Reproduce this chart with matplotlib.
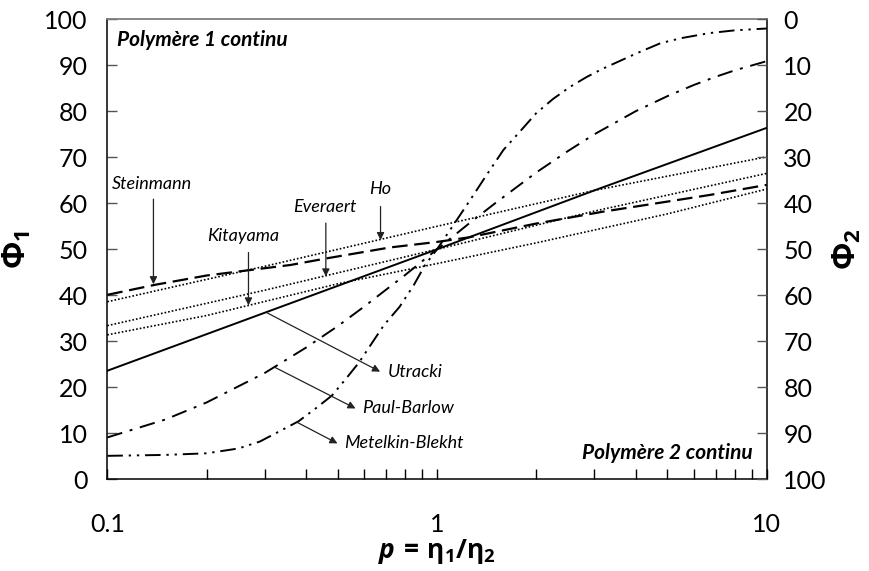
import matplotlib
matplotlib.use("Agg")
import matplotlib.pyplot as plt
from matplotlib.ticker import FixedLocator, NullFormatter

plt.rcParams['font.family'] = ['Lato', 'DejaVu Sans']
plt.rcParams['mathtext.fontset'] = 'custom'
plt.rcParams['mathtext.rm'] = 'Open Sans'
plt.rcParams['mathtext.it'] = 'Open Sans:italic'
plt.rcParams['mathtext.bf'] = 'Open Sans:bold'
plt.rcParams['mathtext.bfit'] = 'Open Sans:italic:bold'

# Phase-inversion volume fraction of polymer 1 (%) vs viscosity ratio p = eta1/eta2
p_steinmann = [0.1, 0.14, 0.2, 0.36, 0.46, 0.72, 1.0, 1.25, 2.0, 3.2, 6.7, 10]
phi_steinmann = [40.1, 42.3, 44.3, 46.6, 48.0, 50.4, 51.6, 52.6, 55.6, 58.2, 61.8, 64.0]

p_ho = [0.1, 0.3, 1.0, 3.0, 10]
phi_ho = [38.6, 46.3, 55.0, 62.8, 70.1]

p_everaert = [0.1, 0.3, 1.0, 3.0, 10]
phi_everaert = [33.4, 41.1, 50.0, 58.3, 66.5]

p_kitayama = [0.1, 0.2, 0.5, 1.0, 2.0, 5.0, 10]
phi_kitayama = [31.4, 35.6, 42.5, 46.9, 51.4, 57.7, 63.1]

p_utracki = [0.1, 0.3, 1.0, 3.0, 10]
phi_utracki = [23.6, 36.2, 50.0, 62.8, 76.4]

p_paul = [0.1, 0.15, 0.2, 0.3, 0.4, 0.5, 0.6, 0.7, 0.8, 1.0, 1.25, 1.5, 2.0,
          2.5, 3.0, 4.0, 5.0, 6.0, 7.0, 8.0, 10]
phi_paul = [9.1, 13.0, 16.7, 23.1, 28.6, 33.3, 37.5, 41.2, 44.4, 50.0, 55.6,
            60.0, 66.7, 71.4, 75.0, 80.0, 83.3, 85.7, 87.5, 88.9, 90.9]

p_metelkin = [0.1, 0.15, 0.2, 0.25, 0.29, 0.33, 0.38, 0.43, 0.48, 0.53, 0.58,
              0.64, 0.69, 0.77, 0.85, 0.92, 1.0, 1.1, 1.26, 1.4, 1.59, 1.8,
              2.0, 2.25, 2.53, 2.85, 3.19, 3.6, 4.0, 4.76, 5.5, 6.7, 8.0, 10]
phi_metelkin = [5.1, 5.3, 5.65, 6.7, 8.2, 10.3, 12.6, 15.5, 18.2, 21.9, 25.4,
                30.0, 33.5, 37.5, 42.2, 46.6, 50.0, 54.4, 60.7, 65.7, 71.6,
                75.9, 79.6, 82.7, 85.3, 87.5, 89.3, 91.0, 92.5, 94.8, 95.9,
                97.0, 97.6, 98.0]

x_ticks = [0.1, 1, 10]
x_tick_labels = ['0.1', '1', '10']
y_ticks = list(range(0, 101, 10))

fig = plt.figure(figsize=(8.69, 5.71), dpi=100)
ax = fig.add_axes([0.1235, 0.1606, 0.7588, 0.8056])

lw_main = 1.4
ax.plot(p_utracki, phi_utracki, color='black', lw=lw_main, ls='-')
ax.plot(p_steinmann, phi_steinmann, color='black', lw=1.6, ls=(0, (7, 3)))
dot = (0, (1.0, 1.2))
ax.plot(p_ho, phi_ho, color='black', lw=1.2, ls=dot)
ax.plot(p_everaert, phi_everaert, color='black', lw=1.2, ls=dot)
ax.plot(p_kitayama, phi_kitayama, color='black', lw=1.2, ls=dot)
ax.plot(p_paul, phi_paul, color='black', lw=lw_main, ls=(0, (8, 4, 1.5, 4)))
ax.plot(p_metelkin, phi_metelkin, color='black', lw=lw_main,
        ls=(0, (8, 3, 1.2, 3, 1.2, 3)))

ax.set_xscale('log')
ax.set_xlim(0.1, 10)
ax.set_ylim(0, 100)
ax.xaxis.set_major_locator(FixedLocator(x_ticks))
ax.set_xticklabels(x_tick_labels)
minor = [m * d for d in (0.1, 1) for m in range(2, 10)]
ax.xaxis.set_minor_locator(FixedLocator(minor))
ax.xaxis.set_minor_formatter(NullFormatter())
ax.set_yticks(y_ticks)

ax.tick_params(axis='x', which='both', direction='in', length=7, width=1,
               labelsize=18, pad=24)
ax.tick_params(axis='y', direction='in', length=7, width=1, labelsize=18,
               pad=14, color='#555555')

for side in ('left', 'right', 'bottom'):
    ax.spines[side].set_color('black')
    ax.spines[side].set_linewidth(1.1)
ax.spines['top'].set_color('#7f7f7f')
ax.spines['top'].set_linewidth(1.3)

ax2 = ax.twinx()
ax2.set_ylim(100, 0)
ax2.set_yticks(y_ticks)
ax2.tick_params(axis='y', direction='in', length=7, width=1, labelsize=18,
                pad=12, color='#555555')
for s in ax2.spines.values():
    s.set_visible(False)

ax.set_ylabel(r'$\mathbf{Φ_1}$', fontsize=23, labelpad=8)
ax2.set_ylabel(r'$\mathbf{Φ_2}$', fontsize=23, labelpad=3, rotation=90)
ax.set_xlabel(r'$\mathbfit{p}\,\mathbf{=\,η_1/η_2}$', fontsize=19, labelpad=1)

# region captions
ax.text(0.015, 0.955, 'Polymère 1 continu', transform=ax.transAxes,
        fontsize=15, fontweight='bold', fontstyle='italic',
        ha='left', va='center')
ax.text(0.979, 0.057, 'Polymère 2 continu', transform=ax.transAxes,
        fontsize=15, fontweight='bold', fontstyle='italic',
        ha='right', va='center')

arrow_kw = dict(arrowstyle='-|>', color='#222222', lw=0.9,
                mutation_scale=11, shrinkA=0, shrinkB=0)
label_kw = dict(fontsize=13, fontstyle='italic', va='center')

# vertical pointers
ax.text(0.137, 64.2, 'Steinmann', ha='center', **label_kw)
ax.annotate('', xy=(0.138, 42.4), xytext=(0.138, 60.9), arrowprops=arrow_kw)
ax.text(0.259, 52.9, 'Kitayama', ha='center', **label_kw)
ax.annotate('', xy=(0.268, 37.8), xytext=(0.268, 49.3), arrowprops=arrow_kw)
ax.text(0.457, 59.3, 'Everaert', ha='center', **label_kw)
ax.annotate('', xy=(0.46, 44.1), xytext=(0.46, 55.7), arrowprops=arrow_kw)
ax.text(0.672, 63.0, 'Ho', ha='center', **label_kw)
ax.annotate('', xy=(0.674, 52.0), xytext=(0.674, 59.3), arrowprops=arrow_kw)

# oblique pointers from curves to their labels
ax.annotate('', xy=(0.672, 23.4), xytext=(0.305, 36.2), arrowprops=arrow_kw)
ax.text(0.707, 23.4, 'Utracki', ha='left', **label_kw)
ax.annotate('', xy=(0.566, 15.4), xytext=(0.323, 24.3), arrowprops=arrow_kw)
ax.text(0.594, 15.4, 'Paul-Barlow', ha='left', **label_kw)
ax.annotate('', xy=(0.499, 7.8), xytext=(0.376, 12.4), arrowprops=arrow_kw)
ax.text(0.523, 7.8, 'Metelkin-Blekht', ha='left', **label_kw)

fig.savefig('out.png', dpi=100)
